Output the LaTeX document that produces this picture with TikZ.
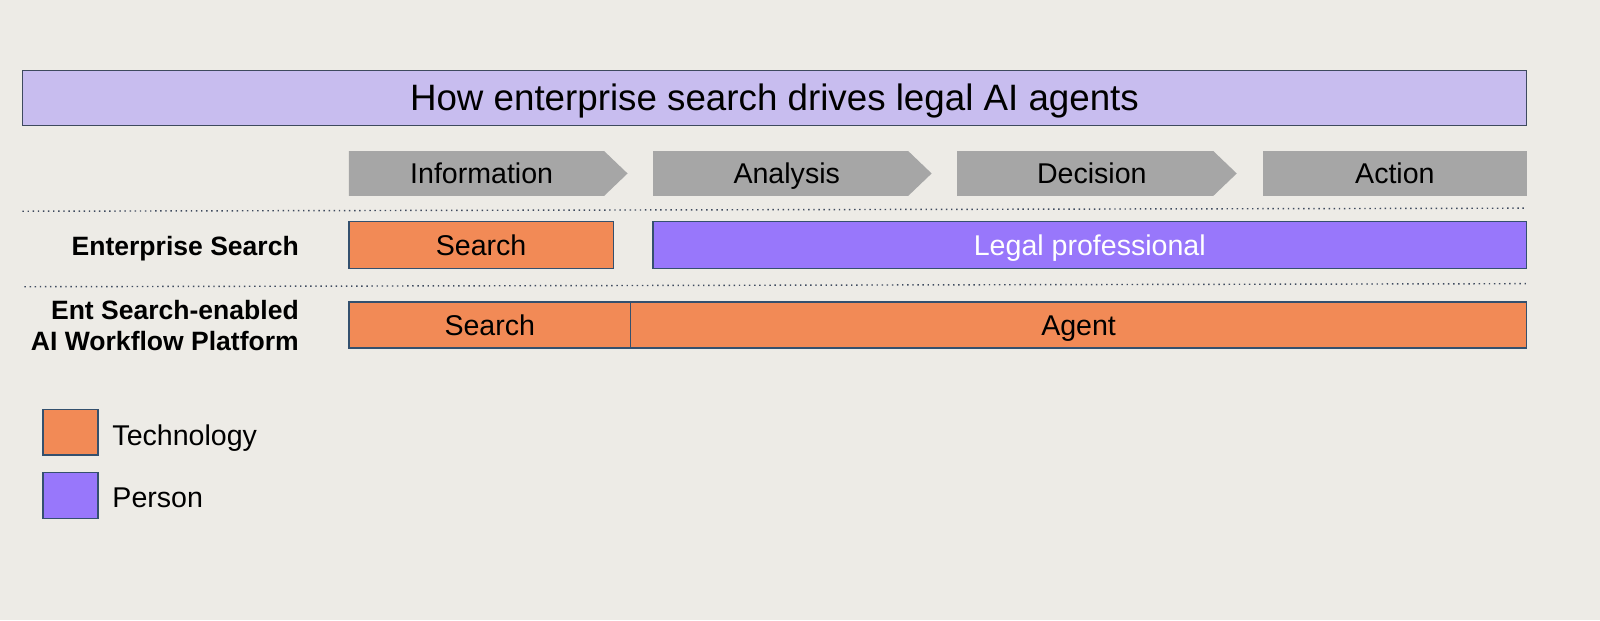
\documentclass[tikz,border=0pt]{standalone}
\usepackage{fontspec}
\setmainfont{Liberation Sans}
\definecolor{bg}{HTML}{EDEBE6}
\definecolor{lav}{HTML}{C8BDEF}
\definecolor{chev}{HTML}{A6A6A6}
\definecolor{tech}{HTML}{F28A56}
\definecolor{pers}{HTML}{9877FB}
\definecolor{edge}{HTML}{34506E}
\definecolor{dotc}{HTML}{3E4A5E}
\tikzset{
  capc/.style={text height=#1, text depth=0pt},
  bx/.style={draw=edge, line width=1.3pt, inner sep=0pt, outer sep=0pt, anchor=north west, font=\fontsize{28}{32}\selectfont, capc=20pt},
  techbox/.style={bx, fill=tech, text=black},
  persbox/.style={bx, fill=pers, text=white},
  chevshape/.style={fill=chev},
  chevtxt/.style={font=\fontsize{28}{32}\selectfont, inner sep=0pt, capc=20pt},
  rowlabel/.style={font=\bfseries\fontsize{26}{31}\selectfont, align=right, anchor=east, inner sep=0pt},
  legtxt/.style={font=\fontsize{28}{32}\selectfont, anchor=west, inner sep=0pt, capc=20pt},
  dotline/.style={draw=dotc, line width=1.4pt, dash pattern=on 1.4pt off 3.6pt}
}
\begin{document}
\begin{tikzpicture}[x=1pt,y=-1pt]
\fill[bg] (0,0) rectangle (1568,608);
\useasboundingbox (0,0) rectangle (1568,608);
% title
\node[draw=dotc, line width=1.3pt, fill=lav, inner sep=0pt, outer sep=0pt, anchor=north west,
  minimum width=1474pt, minimum height=54pt, font=\fontsize{36}{43}\selectfont, capc=25.5pt] (title) at (22,69) {How enterprise search drives legal AI agents};
% chevrons
\path[chevshape] (342,148) -- (592,148) -- (615,170) -- (592,192) -- (342,192) -- cycle;
\node[chevtxt] (info) at (472,170) {Information};
\path[chevshape] (640,148) -- (890,148) -- (913,170) -- (890,192) -- (640,192) -- cycle;
\node[chevtxt] (anal) at (771,170) {Analysis};
\path[chevshape] (938,148) -- (1189,148) -- (1212,170) -- (1189,192) -- (938,192) -- cycle;
\node[chevtxt] (deci) at (1070,170) {Decision};
\path[chevshape] (1238,148) rectangle (1496,192);
\node[chevtxt] (act) at (1367,170) {Action};
% dotted separators
\coordinate (d1a) at (22,207); \coordinate (d1b) at (1496,204);
\coordinate (d2a) at (24,281); \coordinate (d2b) at (1496,278);
\draw[dotline] (d1a) -- (d1b);
\draw[dotline] (d2a) -- (d2b);
% row 1
\node[rowlabel, capc=18.6pt] (lab1) at (293,241) {Enterprise Search};
\node[techbox, minimum width=259pt, minimum height=46pt] (s1) at (342,217) {Search};
\node[persbox, minimum width=856pt, minimum height=46pt] (lp) at (640,217) {Legal professional};
% row 2
\node[rowlabel] (lab2) at (293,319) {Ent Search-enabled\\AI Workflow Platform};
\node[techbox, minimum width=276pt, minimum height=45pt] (s2) at (342,296) {Search};
\node[techbox, minimum width=878pt, minimum height=45pt] (ag) at (618,296) {Agent};
% legend
\node[techbox, minimum width=54pt, minimum height=45pt] (lt) at (42,401) {};
\node[legtxt] (ltt) at (110,427) {Technology};
\node[persbox, minimum width=54pt, minimum height=45pt] (lpp) at (42,463) {};
\node[legtxt] (lpt) at (110,487) {Person};
\end{tikzpicture}
\end{document}
